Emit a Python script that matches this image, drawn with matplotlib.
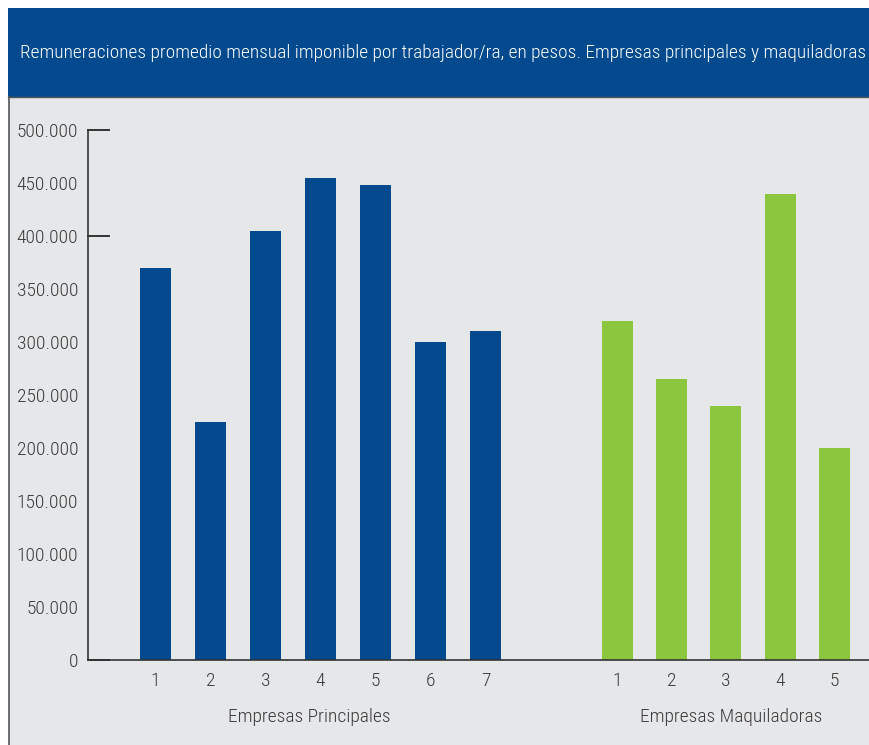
import numpy as np
import matplotlib.pyplot as plt
from matplotlib.patches import Rectangle
from matplotlib.lines import Line2D
from matplotlib import font_manager

# datos
principales_cats = ["1", "2", "3", "4", "5", "6", "7"]
principales_vals = [370000, 225000, 405000, 455000, 448000, 300000, 310000]
maquila_cats = ["1", "2", "3", "4", "5"]
maquila_vals = [320000, 265000, 240000, 440000, 200000]
yticks = [0, 50000, 100000, 150000, 200000, 250000, 300000, 350000, 400000, 450000, 500000]
ytick_labels = ["0", "50.000", "100.000", "150.000", "200.000", "250.000",
                "300.000", "350.000", "400.000", "450.000", "500.000"]
titulo = "Remuneraciones promedio mensual imponible por trabajador/ra, en pesos. Empresas principales y maquiladoras"

azul = "#024a8d"
verde = "#8cc63f"
gris = "#e6e7e9"
texto = "#3a3a3a"

W, H = 870, 745
nombres = {f.name for f in font_manager.fontManager.ttflist}
familia = [n for n in ["Roboto Condensed", "Liberation Sans Narrow", "Liberation Sans"] if n in nombres]
plt.rcParams['font.family'] = familia + ['DejaVu Sans']
plt.rcParams['font.weight'] = 'light'

fig = plt.figure(figsize=(W / 100, H / 100), dpi=100)
fig.patch.set_facecolor("white")

# panel gris y barra de titulo
fig.add_artist(Rectangle((9 / W, 0), 1, 1 - 97 / H, transform=fig.transFigure,
                         facecolor=gris, edgecolor="none", zorder=0))
fig.add_artist(Rectangle((8 / W, 1 - 97 / H), 1, 89 / H, transform=fig.transFigure,
                         facecolor=azul, edgecolor="none", zorder=0))
fig.add_artist(Line2D([9 / W, 9 / W], [0, 1 - 97 / H], transform=fig.transFigure,
                      color="#555555", lw=1.2))
fig.add_artist(Line2D([8 / W, 1], [1 - 97 / H, 1 - 97 / H], transform=fig.transFigure,
                      color="#555555", lw=1.0))
t = fig.text(20 / W, 1 - 53 / H, titulo, color="white", fontsize=15.5,
             ha="left", va="center")
# ajustar el titulo al ancho de la barra
r = fig.canvas.get_renderer()
ancho = t.get_window_extent(renderer=r).width
t.set_fontsize(15.5 * 846 / ancho)

ax = fig.add_axes([88 / W, 1 - 660 / H, (W - 88) / W, (660 - 130) / H])
ax.set_facecolor("none")

xp = np.arange(len(principales_vals))
xm = 8.4 + np.arange(len(maquila_vals)) * 0.985
ax.bar(xp, principales_vals, width=0.564, color=azul)
ax.bar(xm, maquila_vals, width=0.564, color=verde)

ax.set_xlim(-1.227, 12.99)
ax.set_ylim(0, 500000)
ax.set_yticks(yticks)
ax.set_yticklabels(ytick_labels)
ax.set_xticks(list(xp) + list(xm))
ax.set_xticklabels(principales_cats + maquila_cats)
ax.tick_params(length=0, labelsize=14, colors=texto, pad=7)
ax.tick_params(axis="x", pad=9)

for s in ["top", "right"]:
    ax.spines[s].set_visible(False)
for s in ["left", "bottom"]:
    ax.spines[s].set_color("#333333")
    ax.spines[s].set_linewidth(1.2)

# marcas de eje hacia dentro
tr = ax.get_yaxis_transform()
for v in [0, 400000, 500000]:
    ax.plot([0, 21 / (W - 88)], [v, v], transform=tr, color="#333333",
            lw=1.4, clip_on=False)

# etiquetas de grupo
ax.text(np.mean(xp) - 0.2, -0.108, "Empresas Principales", transform=ax.get_xaxis_transform(),
        ha="center", va="center", fontsize=14, color=texto)
ax.text(np.mean(xm) + 0.1, -0.108, "Empresas Maquiladoras", transform=ax.get_xaxis_transform(),
        ha="center", va="center", fontsize=14, color=texto)

fig.savefig("out.png", dpi=100)
